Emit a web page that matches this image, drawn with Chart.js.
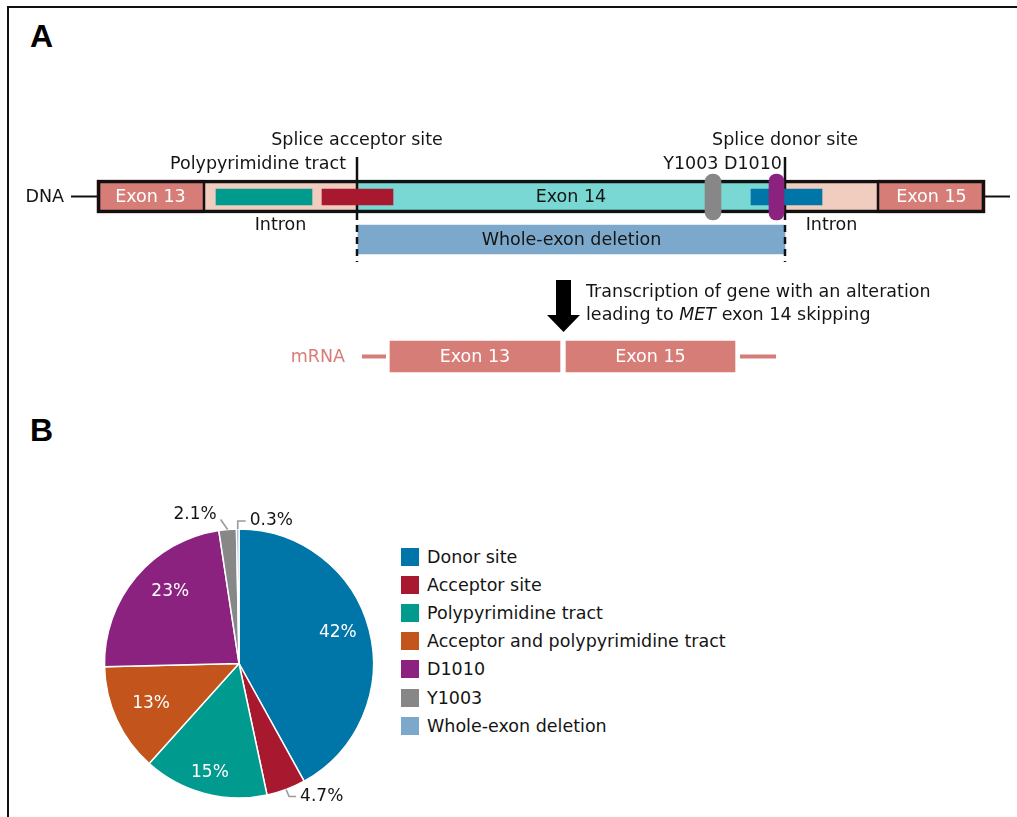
<!DOCTYPE html>
<html>
<head>
<meta charset="utf-8">
<script src="https://cdn.jsdelivr.net/npm/chart.js@4.4.1/dist/chart.umd.min.js"></script>
<style>
  body { margin: 0; background: #fff; }
  #page { position: relative; width: 1017px; height: 817px; overflow: hidden;
          font-family: "DejaVu Sans", sans-serif; font-size: 17.5px; color: #151515; }
  #frame { position: absolute; left: 7px; top: 6px; right: -10px; bottom: -10px;
           border-top: 2px solid #111; border-left: 2px solid #111; }
  canvas { position: absolute; }
  #gene { left: 0; top: 0; }
  #pie { left: 89px; top: 494px; }
  .lbl { position: absolute; white-space: nowrap; line-height: 1; }
  .panel { position: absolute; font: bold 32px "Liberation Sans", Arial, sans-serif; line-height: 1; color: #000; }
  #legend { position: absolute; left: 401px; top: 543px; }
  .item { display: flex; align-items: center; height: 28.1px; white-space: nowrap; }
  .box { width: 18px; height: 18px; margin-right: 8px; }
</style>
</head>
<body>
<div id="page">
  <div id="frame"></div>
  <div class="panel" style="left:30px; top:20px;">A</div>
  <div class="panel" style="left:30px; top:414px;">B</div>
  <canvas id="gene" width="1017" height="400"></canvas>
  <canvas id="pie" width="300" height="339"></canvas>
  <div id="legend"></div>
</div>
<script>
// ===== PANEL A: MET GENE SCHEMATIC (positions along the drawn gene) =====
const dnaRegions = ["Exon 13", "Intron", "Exon 14", "Intron", "Exon 15"];
const dnaStart = [97, 204, 357, 785, 878];
const dnaEnd = [204, 357, 785, 878, 985];

const siteNames = ["Polypyrimidine tract", "Acceptor site", "Donor site"];
const siteStart = [216, 322, 751];
const siteEnd = [312, 393, 822];

const mutNames = ["Y1003", "D1010"];
const mutStart = [705, 769];
const mutEnd = [721, 784];

const deletionRange = [358, 785];

const mrnaExons = ["Exon 13", "Exon 15"];
const mrnaStart = [390, 566];
const mrnaEnd = [560, 735];

// ===== PANEL B: TYPES OF MET EXON 14 ALTERATIONS =====
const categories = ["Donor site", "Acceptor site", "Polypyrimidine tract",
  "Acceptor and polypyrimidine tract", "D1010", "Y1003", "Whole-exon deletion"];
const shares = [42, 4.7, 15, 13, 23, 2.1, 0.3];
const shareLabels = ["42%", "4.7%", "15%", "13%", "23%", "2.1%", "0.3%"];

// ===== CORES =====
const SALMON = "#d77d77", PEACH = "#f1cdbf", TURQ = "#79d8d4";
const sliceColors = ["#0075a8", "#a8182e", "#009a8f", "#c2541c", "#8c2280", "#878787", "#7ca8cb"];
const dnaColors = [SALMON, PEACH, TURQ, PEACH, SALMON];
const siteColors = [sliceColors[2], sliceColors[1], sliceColors[0]];
const mutColors = [sliceColors[5], sliceColors[4]];

// linhas do desenho (y em px do painel A)
const ROW_DNA = 196.5, ROW_DEL = 239.5, ROW_MRNA = 356.5;
const SITE_TOP = 157, DASH_END = 262;

function bars(starts, ends, row) {
  return starts.map((s, i) => ({ x: [s, ends[i]], y: row }));
}
function barSet(data, color, thick, order, extra) {
  return Object.assign({
    type: "bar", indexAxis: "y", data: data, backgroundColor: color,
    barThickness: thick, grouped: false, borderWidth: 0, order: order
  }, extra || {});
}
function seg(p0, p1, color, width, dash) {
  return {
    type: "line", data: [p0, p1], borderColor: color, borderWidth: width,
    borderDash: dash || [], borderCapStyle: "butt", pointRadius: 0, order: 3
  };
}

const dnaTop = ROW_DNA - 16.5, dnaBottom = ROW_DNA + 16.5;
const exon14Start = dnaStart[2], exon14End = dnaEnd[2];

const geneDatasets = [
  barSet(bars(dnaStart, dnaEnd, ROW_DNA), dnaColors, 33, 10),
  barSet([{ x: [dnaStart[0], dnaEnd[4]], y: ROW_DNA }], "rgba(0,0,0,0)", 33, 9,
    { borderColor: "#111", borderWidth: 3, borderSkipped: false }),
  seg({ x: dnaEnd[0], y: dnaTop }, { x: dnaEnd[0], y: dnaBottom }, "#111", 2.5),
  seg({ x: dnaEnd[3], y: dnaTop }, { x: dnaEnd[3], y: dnaBottom }, "#111", 2.5),
  seg({ x: exon14Start, y: SITE_TOP }, { x: exon14Start, y: dnaBottom }, "#111", 2.5),
  seg({ x: exon14End, y: SITE_TOP }, { x: exon14End, y: dnaBottom }, "#111", 2.5),
  seg({ x: exon14Start, y: dnaBottom }, { x: exon14Start, y: DASH_END }, "#111", 2.5, [7, 5]),
  seg({ x: exon14End, y: dnaBottom }, { x: exon14End, y: DASH_END }, "#111", 2.5, [7, 5]),
  seg({ x: 71, y: ROW_DNA }, { x: dnaStart[0], y: ROW_DNA }, "#111", 2),
  seg({ x: dnaEnd[4], y: ROW_DNA }, { x: 1010, y: ROW_DNA }, "#111", 2),
  barSet(bars(siteStart, siteEnd, ROW_DNA + 0.5), siteColors, 16, 2),
  barSet(bars(mutStart, mutEnd, ROW_DNA + 0.5), mutColors, 46, 1,
    { borderRadius: 8, borderSkipped: false }),
  barSet([{ x: deletionRange, y: ROW_DEL }], sliceColors[6], 29, 4),
  barSet(bars(mrnaStart, mrnaEnd, ROW_MRNA), SALMON, 31, 4),
  seg({ x: 362, y: ROW_MRNA }, { x: 386, y: ROW_MRNA }, SALMON, 4),
  seg({ x: 740, y: ROW_MRNA }, { x: 776, y: ROW_MRNA }, SALMON, 4),
  // seta de transcrição
  seg({ x: 563.5, y: 280 }, { x: 563.5, y: 316 }, "#000", 15),
  {
    type: "line", data: [{ x: 547, y: 315 }, { x: 563.5, y: 332 }, { x: 580, y: 315 }],
    borderWidth: 0, pointRadius: 0, backgroundColor: "#000", fill: { value: 315 }, order: 3
  }
];

const geneChart = new Chart(document.getElementById("gene"), {
  type: "bar",
  data: { datasets: geneDatasets },
  options: {
    responsive: false, devicePixelRatio: 1, animation: false, events: [],
    layout: { padding: 0 },
    scales: {
      x: { type: "linear", min: 0, max: 1017, offset: false, display: false },
      y: { type: "linear", min: 0, max: 400, reverse: true, offset: false, display: false }
    },
    plugins: { legend: { display: false }, tooltip: { enabled: false } }
  }
});

// ===== TEXTOS DO PAINEL A =====
const page = document.getElementById("page");
function label(text, x, y, anchor, color, italic) {
  const d = document.createElement("div");
  d.className = "lbl";
  d.innerHTML = text;
  d.style.left = x + "px";
  d.style.top = y + "px";
  const tx = anchor === "left" ? "0" : anchor === "right" ? "-100%" : "-50%";
  d.style.transform = "translate(" + tx + ", -50%)";
  if (color) d.style.color = color;
  page.appendChild(d);
}

const gx = geneChart.scales.x, gy = geneChart.scales.y;
dnaRegions.forEach((name, i) => {
  const cx = gx.getPixelForValue((dnaStart[i] + dnaEnd[i]) / 2);
  if (name === "Intron") label(name, cx, gy.getPixelForValue(ROW_DNA + 28.5), "center");
  else label(name, cx, gy.getPixelForValue(ROW_DNA + 0.5), "center", name === "Exon 14" ? "#151515" : "#fff");
});
mrnaExons.forEach((name, i) => {
  label(name, gx.getPixelForValue((mrnaStart[i] + mrnaEnd[i]) / 2), gy.getPixelForValue(ROW_MRNA + 0.5), "center", "#fff");
});
label("Whole-exon deletion", gx.getPixelForValue((deletionRange[0] + deletionRange[1]) / 2), gy.getPixelForValue(ROW_DEL + 0.5), "center");
label("Splice acceptor site", gx.getPixelForValue(exon14Start), 139.5, "center");
label("Polypyrimidine tract", 346, 163.5, "right");
label("Splice donor site", gx.getPixelForValue(exon14End), 139.5, "center");
label(mutNames.join(" "), 782, 163.5, "right");
label("DNA", 64, 197, "right");
label("mRNA", 345, 357, "right", SALMON);
label("Transcription of gene with an alteration", 586, 292, "left");
label("leading to <i>MET</i> exon 14 skipping", 586, 314.5, "left");

// ===== RÓTULOS DA PIZZA =====
const pieLabels = {
  id: "pieLabels",
  afterDatasetsDraw(chart, args, opts) {
    const ctx = chart.ctx;
    const arcs = chart.getDatasetMeta(0).data;
    ctx.save();
    ctx.font = "17px 'DejaVu Sans'";
    ctx.textBaseline = "middle";
    arcs.forEach((arc, i) => {
      const p = arc.getProps(["x", "y", "startAngle", "endAngle", "outerRadius"], true);
      const mid = (p.startAngle + p.endAngle) / 2;
      const out = opts.outside[i];
      if (!out) {
        const a = mid + (opts.shift[i] || 0) * Math.PI / 180;
        const r = p.outerRadius * opts.inner[i];
        ctx.fillStyle = "#fff";
        ctx.textAlign = "center";
        ctx.fillText(shareLabels[i], p.x + Math.cos(a) * r, p.y + Math.sin(a) * r);
      } else {
        const x0 = p.x + Math.cos(mid) * p.outerRadius, y0 = p.y + Math.sin(mid) * p.outerRadius;
        const x1 = x0 + out.elbow[0], y1 = y0 + out.elbow[1];
        const x2 = x1 + out.run;
        ctx.strokeStyle = "#9a9a9a";
        ctx.lineWidth = 1.6;
        ctx.beginPath();
        ctx.moveTo(x0, y0); ctx.lineTo(x1, y1); ctx.lineTo(x2, y1);
        ctx.stroke();
        const dir = out.run < 0 || out.side === "left" ? -1 : 1;
        ctx.fillStyle = "#151515";
        ctx.textAlign = dir < 0 ? "right" : "left";
        ctx.fillText(shareLabels[i], x2 + dir * 4, y1 + (out.dy || 0));
      }
    });
    ctx.restore();
  }
};

new Chart(document.getElementById("pie"), {
  type: "pie",
  data: {
    labels: categories,
    datasets: [{ data: shares, backgroundColor: sliceColors, borderColor: "#fff", borderWidth: 1.5, radius: 134.5 }]
  },
  options: {
    responsive: false, devicePixelRatio: 1, animation: false, events: [],
    layout: { padding: 0 },
    plugins: {
      legend: { display: false },
      tooltip: { enabled: false },
      pieLabels: {
        inner: [0.77, 0, 0.84, 0.72, 0.74],
        shift: [-3, 0, 0, 0, 6.3],
        outside: {
          1: { elbow: [3, 7], run: 7 },
          5: { elbow: [-7, -10], run: 0, side: "left", dy: -5 },
          6: { elbow: [0, -8], run: 8 }
        }
      }
    }
  },
  plugins: [pieLabels]
});

// ===== LEGENDA =====
const legend = document.getElementById("legend");
categories.forEach((name, i) => {
  const row = document.createElement("div");
  row.className = "item";
  row.innerHTML = `<span class="box" style="background:${sliceColors[i]}"></span><span>${name}</span>`;
  legend.appendChild(row);
});
</script>
</body>
</html>
